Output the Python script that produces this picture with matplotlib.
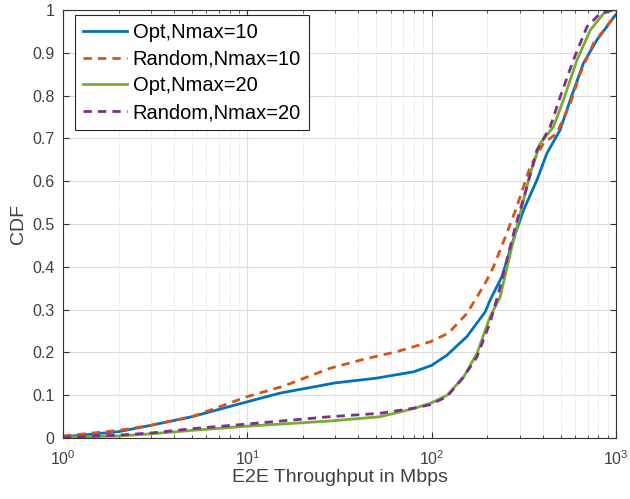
import numpy as np
import matplotlib
matplotlib.use('Agg')
import matplotlib.pyplot as plt
from matplotlib.ticker import LogLocator, NullFormatter, FixedLocator

# throughput (Mbps) / CDF pairs
opt10_x = [1, 2, 3, 5, 10, 15, 20, 30, 50, 80, 100, 121, 155, 195, 207, 240, 284, 315, 372, 421, 497, 564, 665, 787, 990, 1000]
opt10_y = [0.003, 0.015, 0.03, 0.05, 0.085, 0.105, 0.115, 0.129, 0.14, 0.155, 0.17, 0.194, 0.237, 0.295, 0.322, 0.377, 0.478, 0.533, 0.603, 0.665, 0.72, 0.79, 0.876, 0.93, 0.988, 0.99]

rnd10_x = [1, 2, 3, 5, 10, 15.6, 28, 42.6, 64.7, 98, 123, 155, 176, 199, 216, 255, 289, 342, 404, 477, 564, 639, 754, 990, 1000]
rnd10_y = [0.005, 0.018, 0.03, 0.05, 0.097, 0.121, 0.163, 0.184, 0.202, 0.225, 0.245, 0.291, 0.33, 0.369, 0.40, 0.478, 0.54, 0.634, 0.689, 0.712, 0.782, 0.852, 0.922, 0.988, 0.99]

opt20_x = [1, 2, 3, 5, 10, 20, 28, 52.5, 79.7, 98, 121, 149, 176, 207, 235, 266, 302, 342, 388, 457, 518, 613, 724, 855, 960, 1000]
opt20_y = [0.002, 0.005, 0.01, 0.018, 0.028, 0.036, 0.04, 0.05, 0.069, 0.081, 0.1, 0.143, 0.198, 0.283, 0.33, 0.43, 0.525, 0.618, 0.689, 0.727, 0.79, 0.883, 0.953, 0.992, 1.0, 1.0]

rnd20_x = [1, 2, 3, 5, 10, 28, 52.5, 80, 98, 121, 149, 176, 207, 230, 284, 328, 372, 439, 497, 586, 695, 820, 960, 1000]
rnd20_y = [0.002, 0.007, 0.012, 0.022, 0.033, 0.05, 0.058, 0.07, 0.078, 0.097, 0.143, 0.19, 0.27, 0.338, 0.494, 0.587, 0.673, 0.727, 0.797, 0.883, 0.961, 0.992, 1.0, 1.0]

labels = ["Opt,Nmax=10", "Random,Nmax=10", "Opt,Nmax=20", "Random,Nmax=20"]

plt.rcParams['font.family'] = ['Liberation Sans', 'DejaVu Sans']
plt.rcParams['mathtext.fontset'] = 'custom'
plt.rcParams['mathtext.rm'] = 'Liberation Sans'
plt.rcParams['mathtext.it'] = 'Liberation Sans'

fig = plt.figure(figsize=(6.3, 4.99), dpi=100)
ax = fig.add_axes([0.1, 0.122, 0.878, 0.858])

ax.plot(opt10_x, opt10_y, color='#0072BD', linewidth=2, label=labels[0])
ax.plot(rnd10_x, rnd10_y, color='#D95319', linewidth=2, linestyle=(0, (3, 2.2)), label=labels[1])
ax.plot(opt20_x, opt20_y, color='#77AC30', linewidth=2, label=labels[2])
ax.plot(rnd20_x, rnd20_y, color='#7E2F8E', linewidth=2, linestyle=(0, (3, 2.2)), label=labels[3])

ax.set_xscale('log')
ax.set_xlim(1, 1000)
ax.set_ylim(0, 1)
ax.yaxis.set_major_locator(FixedLocator(np.arange(0, 1.01, 0.1)))
ax.set_yticklabels(["0", "0.1", "0.2", "0.3", "0.4", "0.5", "0.6", "0.7", "0.8", "0.9", "1"])
ax.xaxis.set_minor_locator(LogLocator(base=10, subs=np.arange(2, 10)))
ax.xaxis.set_minor_formatter(NullFormatter())

ax.grid(True, which='major', color='#dddddd', linewidth=0.8, linestyle='-')
ax.grid(True, which='minor', axis='x', color='#cccccc', linewidth=0.6, linestyle=':')
ax.set_axisbelow(True)

ax.tick_params(which='both', direction='in', top=True, right=True, colors='#333333',
               labelsize=11.5, labelcolor='#404040')
ax.tick_params(which='major', length=4, pad=6)
ax.tick_params(axis='x', which='major', pad=8)
ax.tick_params(which='minor', length=2.5)
for s in ax.spines.values():
    s.set_color('#333333')
    s.set_linewidth(0.8)

ax.set_xlabel("E2E Throughput in Mbps", fontsize=14, color='#404040', labelpad=1)
ax.set_ylabel("CDF", fontsize=14, color='#404040', labelpad=4)

leg = ax.legend(loc='upper left', bbox_to_anchor=(0.022, 0.988), borderaxespad=0,
                fontsize=14.5, fancybox=False, framealpha=1, edgecolor='#262626',
                handlelength=2.15, labelspacing=0.38, handletextpad=0.3, borderpad=0.4)
leg.get_frame().set_linewidth(0.8)

plt.savefig("out.png", dpi=100)
